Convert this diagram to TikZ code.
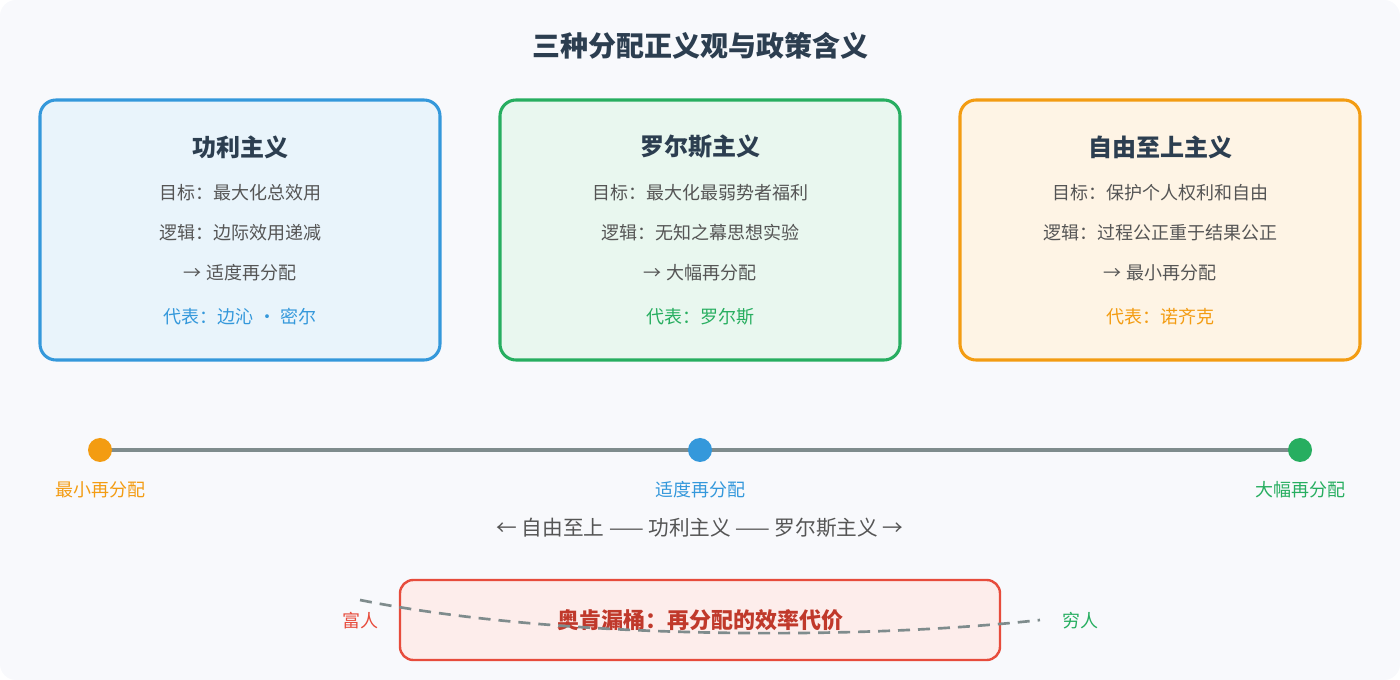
\documentclass[tikz,border=0pt]{standalone}
\usepackage{fontspec}
\setmainfont{Noto Sans CJK SC}
\definecolor{bgc}{HTML}{F8F9FC}
\definecolor{ink}{HTML}{2C3E50}
\definecolor{txt}{HTML}{555555}
\definecolor{blu}{HTML}{3498DB}
\definecolor{grn}{HTML}{27AE60}
\definecolor{org}{HTML}{F39C12}
\definecolor{red}{HTML}{E74C3C}
\definecolor{dred}{HTML}{C0392B}
\definecolor{gry}{HTML}{7F8C8D}
\begin{document}
\begin{tikzpicture}[x=0.75pt, y=-0.75pt,
                    card/.style  = {draw, line width=2.3pt, rounded corners=12pt,
                                    minimum width=300pt, minimum height=195pt},
                    head/.style  = {font=\fontsize{18}{20}\selectfont\bfseries, text=ink},
                    line/.style  = {font=\fontsize{13.5}{15}\selectfont, text=txt},
                    dot/.style   = {circle, minimum size=18pt, inner sep=0pt},
                    tick/.style  = {font=\fontsize{13.5}{15}\selectfont}]

\fill[bgc, rounded corners=12pt] (0,0) rectangle (1400,680);
\useasboundingbox (0,0) rectangle (1400,680);

\node[font=\fontsize{21}{24}\selectfont\bfseries, text=ink] (title) at (700,46) {三种分配正义观与政策含义};

% the three cards
\node[card, draw=blu, fill=blu!11] (util) at (240,230) {};
\node[card, draw=grn, fill=grn!10] (rawl) at (700,230) {};
\node[card, draw=org, fill=org!11] (libe) at (1160,230) {};

\node[head] (utilT) at (240,147) {功利主义};
\node[line] (utilA) at (240,193) {目标：最大化总效用};
\node[line] (utilB) at (240,233) {逻辑：边际效用递减};
\node[line] (utilC) at (240,273) {→ 适度再分配};
\node[line, text=blu] (utilD) at (240,317) {代表：边沁 · 密尔};

\node[head] (rawlT) at (700,147) {罗尔斯主义};
\node[line] (rawlA) at (700,193) {目标：最大化最弱势者福利};
\node[line] (rawlB) at (700,233) {逻辑：无知之幕思想实验};
\node[line] (rawlC) at (700,273) {→ 大幅再分配};
\node[line, text=grn] (rawlD) at (700,317) {代表：罗尔斯};

\node[head] (libeT) at (1160,147) {自由至上主义};
\node[line] (libeA) at (1160,193) {目标：保护个人权利和自由};
\node[line] (libeB) at (1160,233) {逻辑：过程公正重于结果公正};
\node[line] (libeC) at (1160,273) {→ 最小再分配};
\node[line, text=org] (libeD) at (1160,317) {代表：诺齐克};

% the scale
\node[dot] (lo)  at (100,450)  {};
\node[dot] (mid) at (700,450)  {};
\node[dot] (hi)  at (1300,450) {};
\draw[gry, line width=3pt] (lo.center) -- (hi.center);
\fill[org] (lo) circle (12);
\fill[blu] (mid) circle (12);
\fill[grn] (hi) circle (12);
\node[tick, text=org] (loL)  at (100,490)  {最小再分配};
\node[tick, text=blu] (midL) at (700,490)  {适度再分配};
\node[tick, text=grn] (hiL)  at (1300,490) {大幅再分配};
\node[font=\fontsize{15.5}{18}\selectfont, text=txt] (order) at (700,528) {← 自由至上 —— 功利主义 —— 罗尔斯主义 →};

% leaky bucket
\node[draw=red, line width=1.8pt, fill=red!10, rounded corners=10pt,
      minimum width=450pt, minimum height=60pt] (okun) at (700,620) {};
\node[font=\fontsize{16.5}{19}\selectfont\bfseries, text=dred] (okunT) at (700,620) {奥肯漏桶：再分配的效率代价};
\coordinate (rich) at (360,600);
\coordinate (poor) at (1040,620);
\draw[gry, line width=2pt, dash pattern=on 9pt off 6pt]
  (rich) .. controls (560,640) and (860,640) .. (poor);
\node[tick, text=red] (richL) at (360,621) {富人};
\node[tick, text=grn] (poorL) at (1080,621) {穷人};
\end{tikzpicture}
\end{document}
